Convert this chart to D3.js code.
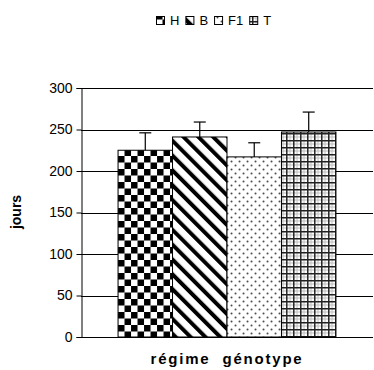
<!DOCTYPE html>
<html>
<head>
<meta charset="utf-8">
<script src="https://cdn.jsdelivr.net/npm/d3@7"></script>
<style>
  body { margin: 0; background: #fff; }
  svg { display: block; font-family: Arial, "Liberation Sans", sans-serif; }
</style>
</head>
<body>
<div id="chart"></div>
<script>
// Data
const category = "régime  génotype";
const series = ["H", "B", "F1", "T"];
const values = [225, 241, 217, 247];
const errors = [21, 18, 17, 24];
const yTicks = [0, 50, 100, 150, 200, 250, 300];

const width = 374;
const height = 370;
const plot = { left: 81, right: 373, top: 88, bottom: 337 };

const svg = d3.select("#chart")
  .append("svg")
  .attr("width", width)
  .attr("height", height);

// Fill patterns
const defs = svg.append("defs");

const checker = defs.append("pattern")
  .attr("id", "pat-H")
  .attr("patternUnits", "userSpaceOnUse")
  .attr("width", 13).attr("height", 13);
checker.append("rect").attr("width", 13).attr("height", 13).attr("fill", "#fff");
checker.append("rect").attr("width", 6.5).attr("height", 6.5).attr("fill", "#000");
checker.append("rect").attr("x", 6.5).attr("y", 6.5).attr("width", 6.5).attr("height", 6.5).attr("fill", "#000");

const diag = defs.append("pattern")
  .attr("id", "pat-B")
  .attr("patternUnits", "userSpaceOnUse")
  .attr("width", 10.5).attr("height", 10.5)
  .attr("patternTransform", "rotate(-45)");
diag.append("rect").attr("width", 10.5).attr("height", 10.5).attr("fill", "#fff");
diag.append("rect").attr("width", 4).attr("height", 10.5).attr("fill", "#000");

const dots = defs.append("pattern")
  .attr("id", "pat-F1")
  .attr("patternUnits", "userSpaceOnUse")
  .attr("width", 8).attr("height", 8);
dots.append("rect").attr("width", 8).attr("height", 8).attr("fill", "#fff");
dots.append("circle").attr("cx", 1.5).attr("cy", 1.5).attr("r", 1).attr("fill", "#444");
dots.append("circle").attr("cx", 5.5).attr("cy", 5.5).attr("r", 1).attr("fill", "#444");

const plaid = defs.append("pattern")
  .attr("id", "pat-T")
  .attr("patternUnits", "userSpaceOnUse")
  .attr("width", 7).attr("height", 7);
plaid.append("rect").attr("width", 7).attr("height", 7).attr("fill", "#fff");
plaid.append("rect").attr("x", 3.5).attr("width", 1).attr("height", 7).attr("fill", "#bbb");
plaid.append("rect").attr("y", 3.5).attr("width", 7).attr("height", 1).attr("fill", "#bbb");
plaid.append("rect").attr("width", 1.5).attr("height", 7).attr("fill", "#222");
plaid.append("rect").attr("width", 7).attr("height", 1.5).attr("fill", "#222");

// Scales
const y = d3.scaleLinear().domain([0, 300]).range([plot.bottom, plot.top]);
const x0 = d3.scaleBand()
  .domain([category])
  .range([plot.left, plot.right])
  .paddingInner(0)
  .paddingOuter(0.17);
const x1 = d3.scaleBand()
  .domain(series)
  .range([0, x0.bandwidth()]);

// Gridlines
svg.append("g")
  .selectAll("line")
  .data(yTicks.filter(d => d > 0))
  .join("line")
  .attr("x1", plot.left)
  .attr("x2", plot.right)
  .attr("y1", d => Math.round(y(d)) + 0.5)
  .attr("y2", d => Math.round(y(d)) + 0.5)
  .attr("stroke", "#000")
  .attr("stroke-width", 1);

// Bars
const group = svg.append("g")
  .attr("transform", `translate(${x0(category)},0)`);

group.selectAll("rect")
  .data(series)
  .join("rect")
  .attr("x", d => x1(d))
  .attr("y", (d, i) => y(values[i]))
  .attr("width", x1.bandwidth())
  .attr("height", (d, i) => y(0) - y(values[i]))
  .attr("fill", d => `url(#pat-${d})`)
  .attr("stroke", "#000")
  .attr("stroke-width", 1);

// Error bars (upper only)
const err = group.selectAll(".err")
  .data(series)
  .join("g")
  .attr("class", "err");
err.append("line")
  .attr("x1", d => x1(d) + x1.bandwidth() / 2)
  .attr("x2", d => x1(d) + x1.bandwidth() / 2)
  .attr("y1", (d, i) => y(values[i]))
  .attr("y2", (d, i) => y(values[i] + errors[i]))
  .attr("stroke", "#000")
  .attr("stroke-width", 1.2);
err.append("line")
  .attr("x1", d => x1(d) + x1.bandwidth() / 2 - 6)
  .attr("x2", d => x1(d) + x1.bandwidth() / 2 + 6)
  .attr("y1", (d, i) => y(values[i] + errors[i]))
  .attr("y2", (d, i) => y(values[i] + errors[i]))
  .attr("stroke", "#000")
  .attr("stroke-width", 1.2);

// Y axis
const yAxis = svg.append("g")
  .attr("transform", `translate(${plot.left + 0.5},0)`)
  .call(d3.axisLeft(y).tickValues(yTicks).tickSize(5).tickPadding(4));
yAxis.select(".domain").attr("stroke", "#000");
yAxis.selectAll(".tick line").attr("stroke", "#000");
yAxis.selectAll(".tick text")
  .attr("fill", "#000")
  .style("font-size", "14px")
  .style("font-family", "Arial, 'Liberation Sans', sans-serif");

// X axis line
svg.append("line")
  .attr("x1", plot.left)
  .attr("x2", plot.right)
  .attr("y1", y(0) + 0.5)
  .attr("y2", y(0) + 0.5)
  .attr("stroke", "#000");

// Category label
svg.append("text")
  .attr("x", x0(category) + x0.bandwidth() / 2)
  .attr("y", 364)
  .attr("text-anchor", "middle")
  .style("font-size", "15px")
  .style("font-weight", "bold")
  .style("letter-spacing", "1.8px")
  .style("white-space", "pre")
  .text(category);

// Y title
svg.append("text")
  .attr("transform", "translate(21,212) rotate(-90)")
  .attr("text-anchor", "middle")
  .style("font-size", "14px")
  .style("font-weight", "bold")
  .text("jours");

// Legend
const legend = svg.append("g");
let lx = 156;
series.forEach(s => {
  legend.append("rect")
    .attr("x", lx + 0.5).attr("y", 16.5)
    .attr("width", 8).attr("height", 8)
    .attr("fill", `url(#pat-${s})`)
    .attr("stroke", "#000");
  lx += 14;
  const t = legend.append("text")
    .attr("x", lx).attr("y", 25)
    .style("font-size", "13px")
    .text(s);
  lx += t.node().getComputedTextLength() + 6;
});
</script>
</body>
</html>
